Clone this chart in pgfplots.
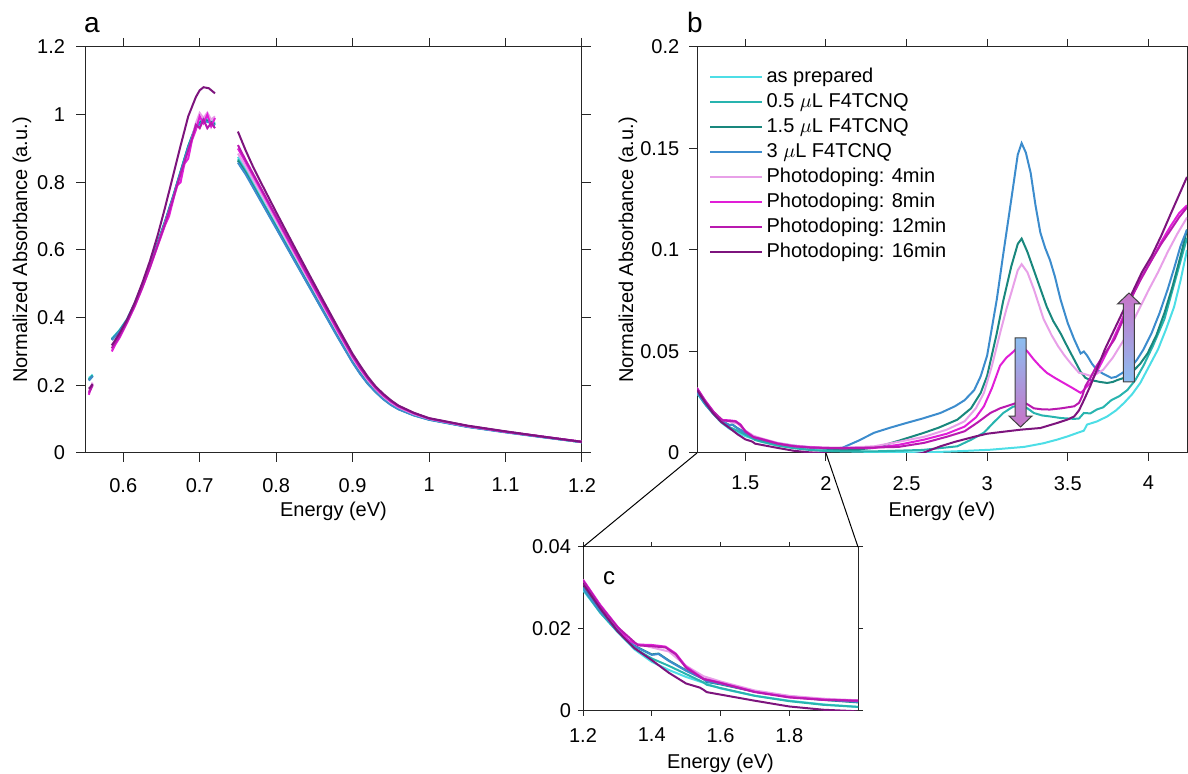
\documentclass[border=0pt]{standalone}
\usepackage{fontspec}
\setmainfont{Liberation Sans}
\usepackage{pgfplots}
\pgfplotsset{compat=1.18}
\usepackage{pgfplotstable}

\definecolor{cAP}{RGB}{77,222,230}
\definecolor{cFa}{RGB}{40,180,175}
\definecolor{cFb}{RGB}{25,135,125}
\definecolor{cFc}{RGB}{60,140,205}
\definecolor{cPa}{RGB}{232,160,232}
\definecolor{cPb}{RGB}{225,30,215}
\definecolor{cPc}{RGB}{185,25,175}
\definecolor{cPd}{RGB}{125,20,125}
\definecolor{arBlue}{RGB}{140,190,240}
\definecolor{arPink}{RGB}{248,200,248}
\definecolor{arPurp}{RGB}{200,115,200}

% ---------- panel a: full spectra (gaps = nan) ----------
\pgfplotstableread{
x y
0.555 0.222
0.5575 0.226
0.560 0.232
nan nan
0.585 0.338
0.595 0.363
0.605 0.396
0.615 0.443
0.625 0.498
0.635 0.558
0.645 0.623
0.655 0.688
0.665 0.758
0.675 0.833
0.685 0.908
0.695 0.968
0.705 0.990
0.715 0.982
0.720 0.975
nan nan
0.750 0.875
0.760 0.838
0.780 0.755
0.800 0.673
0.820 0.592
0.840 0.511
0.860 0.430
0.880 0.350
0.900 0.272
0.910 0.238
0.920 0.208
0.930 0.183
0.940 0.162
0.950 0.145
0.960 0.131
0.980 0.112
1.000 0.099
1.050 0.078
1.100 0.062
1.150 0.047
1.200 0.032
}\aAP
\pgfplotstableread{
x y
0.555 0.218
0.5575 0.223
0.560 0.229
nan nan
0.585 0.336
0.595 0.361
0.605 0.394
0.615 0.441
0.625 0.496
0.635 0.556
0.645 0.621
0.655 0.686
0.665 0.756
0.675 0.831
0.685 0.906
0.695 0.966
0.705 0.986
0.715 0.980
0.720 0.972
nan nan
0.750 0.868
0.760 0.832
0.780 0.750
0.800 0.669
0.820 0.588
0.840 0.508
0.860 0.428
0.880 0.347
0.900 0.270
0.910 0.236
0.920 0.206
0.930 0.182
0.940 0.161
0.950 0.144
0.960 0.130
0.980 0.112
1.000 0.099
1.050 0.078
1.100 0.062
1.150 0.047
1.200 0.032
}\aFa
\pgfplotstableread{
x y
0.555 0.216
0.5575 0.221
0.560 0.228
nan nan
0.585 0.335
0.595 0.360
0.605 0.393
0.615 0.440
0.625 0.495
0.635 0.555
0.645 0.620
0.655 0.685
0.665 0.755
0.675 0.830
0.685 0.905
0.695 0.965
0.705 0.985
0.715 0.978
0.720 0.970
nan nan
0.750 0.864
0.760 0.828
0.780 0.747
0.800 0.667
0.820 0.586
0.840 0.506
0.860 0.426
0.880 0.346
0.900 0.269
0.910 0.235
0.920 0.205
0.930 0.181
0.940 0.160
0.950 0.143
0.960 0.130
0.980 0.112
1.000 0.099
1.050 0.078
1.100 0.062
1.150 0.047
1.200 0.032
}\aFb
\pgfplotstableread{
x y
0.555 0.214
0.5575 0.220
0.560 0.227
nan nan
0.585 0.334
0.595 0.359
0.605 0.392
0.615 0.439
0.625 0.494
0.635 0.554
0.645 0.619
0.655 0.684
0.665 0.754
0.675 0.829
0.685 0.903
0.695 0.962
0.705 0.982
0.715 0.975
0.720 0.968
nan nan
0.750 0.858
0.760 0.824
0.780 0.744
0.800 0.664
0.820 0.584
0.840 0.504
0.860 0.424
0.880 0.344
0.900 0.267
0.910 0.233
0.920 0.204
0.930 0.180
0.940 0.159
0.950 0.142
0.960 0.129
0.980 0.111
1.000 0.098
1.050 0.077
1.100 0.061
1.150 0.046
1.200 0.032
}\aFc
\pgfplotstableread{
x y
0.555 0.182
0.5575 0.195
0.560 0.208
nan nan
0.585 0.305
0.595 0.342
0.605 0.386
0.615 0.434
0.625 0.489
0.635 0.549
0.645 0.614
0.655 0.679
0.665 0.748
0.675 0.818
0.685 0.888
0.690 0.930
0.695 0.975
0.700 1.005
0.705 0.990
0.710 1.006
0.715 0.985
0.720 0.995
nan nan
0.750 0.885
0.760 0.848
0.780 0.768
0.800 0.686
0.820 0.603
0.840 0.521
0.860 0.440
0.880 0.359
0.900 0.280
0.910 0.246
0.920 0.215
0.930 0.189
0.940 0.167
0.950 0.149
0.960 0.135
0.980 0.115
1.000 0.101
1.050 0.079
1.100 0.063
1.150 0.048
1.200 0.033
}\aPa
\pgfplotstableread{
x y
0.555 0.172
0.5575 0.192
0.560 0.202
nan nan
0.585 0.300
0.590 0.322
0.595 0.340
0.605 0.385
0.615 0.433
0.625 0.488
0.635 0.548
0.645 0.612
0.655 0.675
0.660 0.700
0.665 0.745
0.670 0.790
0.675 0.800
0.680 0.855
0.685 0.870
0.690 0.925
0.695 0.955
0.700 0.995
0.705 0.975
0.710 1.000
0.715 0.965
0.720 0.990
nan nan
0.750 0.900
0.760 0.860
0.780 0.778
0.800 0.695
0.820 0.611
0.840 0.528
0.860 0.446
0.880 0.364
0.900 0.285
0.910 0.250
0.920 0.219
0.930 0.192
0.940 0.170
0.950 0.152
0.960 0.137
0.980 0.117
1.000 0.102
1.050 0.080
1.100 0.063
1.150 0.048
1.200 0.033
}\aPb
\pgfplotstableread{
x y
0.555 0.178
0.5575 0.188
0.560 0.200
nan nan
0.585 0.310
0.595 0.345
0.605 0.388
0.615 0.436
0.625 0.490
0.635 0.550
0.645 0.615
0.655 0.680
0.665 0.750
0.675 0.825
0.685 0.895
0.690 0.930
0.695 0.970
0.700 0.960
0.705 0.985
0.710 0.960
0.715 0.975
0.720 0.960
nan nan
0.750 0.910
0.760 0.866
0.780 0.783
0.800 0.699
0.820 0.615
0.840 0.532
0.860 0.450
0.880 0.368
0.900 0.288
0.910 0.253
0.920 0.221
0.930 0.194
0.940 0.172
0.950 0.154
0.960 0.139
0.980 0.118
1.000 0.102
1.050 0.080
1.100 0.063
1.150 0.048
1.200 0.033
}\aPc
\pgfplotstableread{
x y
0.555 0.190
0.5575 0.196
0.560 0.204
nan nan
0.585 0.318
0.595 0.353
0.605 0.394
0.615 0.444
0.625 0.503
0.635 0.568
0.645 0.643
0.655 0.728
0.665 0.818
0.675 0.908
0.685 0.995
0.695 1.052
0.700 1.072
0.705 1.081
0.712 1.078
0.720 1.063
nan nan
0.750 0.950
0.760 0.895
0.770 0.845
0.780 0.800
0.800 0.712
0.820 0.626
0.840 0.541
0.860 0.457
0.880 0.374
0.900 0.293
0.910 0.258
0.920 0.225
0.930 0.197
0.940 0.175
0.950 0.156
0.960 0.140
0.980 0.119
1.000 0.103
1.050 0.081
1.100 0.064
1.150 0.048
1.200 0.033
}\aPd

% ---------- panel b / c: doped films ----------
\pgfplotstableread{
x y
1.20 0.0295
1.25 0.0240
1.30 0.0193
1.35 0.0150
1.40 0.0120
1.45 0.0100
1.50 0.0083
1.60 0.0055
1.70 0.0037
1.80 0.0025
1.90 0.0016
2.00 0.0010
2.30 0.0005
2.61 0.0003
2.80 0.0008
3.02 0.0016
3.23 0.0030
3.35 0.0048
3.435 0.0066
3.50 0.0082
3.56 0.0099
3.60 0.0110
3.62 0.0140
3.68 0.0155
3.745 0.0180
3.80 0.0210
3.85 0.0247
3.90 0.0290
3.95 0.0345
4.00 0.0420
4.06 0.0510
4.11 0.0610
4.16 0.0720
4.20 0.0850
4.24 0.1000
}\bAP
\pgfplotstableread{
x y
1.20 0.0298
1.25 0.0240
1.30 0.0194
1.35 0.0153
1.40 0.0128
1.45 0.0110
1.50 0.0090
1.55 0.0070
1.56 0.0064
1.60 0.0056
1.70 0.0037
1.80 0.0024
1.90 0.0015
2.00 0.0010
2.30 0.0008
2.60 0.0015
2.815 0.0033
2.90 0.0065
2.98 0.0100
3.04 0.0150
3.10 0.0197
3.16 0.0228
3.21 0.0234
3.25 0.0220
3.29 0.0197
3.34 0.0185
3.39 0.0180
3.46 0.0172
3.54 0.0168
3.57 0.0170
3.60 0.0197
3.64 0.0195
3.68 0.0214
3.72 0.0225
3.77 0.0260
3.82 0.0280
3.87 0.0310
3.92 0.0360
3.97 0.0430
4.03 0.0530
4.10 0.0660
4.17 0.0860
4.24 0.1060
}\bFa
\pgfplotstableread{
x y
1.20 0.0302
1.25 0.0245
1.30 0.0198
1.35 0.0159
1.40 0.0138
1.42 0.0140
1.45 0.0123
1.50 0.0099
1.55 0.0079
1.56 0.0071
1.60 0.0065
1.70 0.0047
1.80 0.0035
1.90 0.0027
2.00 0.0021
2.10 0.0018
2.20 0.0018
2.30 0.0025
2.45 0.0060
2.61 0.0100
2.70 0.0125
2.815 0.0164
2.90 0.0220
2.96 0.0296
3.00 0.0380
3.06 0.0590
3.10 0.0750
3.15 0.0920
3.19 0.1030
3.214 0.1056
3.25 0.0990
3.29 0.0900
3.33 0.0810
3.37 0.0720
3.41 0.0650
3.455 0.0590
3.50 0.0520
3.54 0.0460
3.58 0.0400
3.61 0.0370
3.64 0.0360
3.70 0.0350
3.745 0.0345
3.78 0.0350
3.81 0.0360
3.85 0.0370
3.89 0.0390
3.95 0.0440
3.995 0.0490
4.05 0.0580
4.10 0.0690
4.15 0.0820
4.20 0.0970
4.24 0.1100
}\bFb
\pgfplotstableread{
x y
1.20 0.0300
1.25 0.0243
1.30 0.0196
1.35 0.0158
1.40 0.0137
1.42 0.0139
1.45 0.0122
1.50 0.0098
1.55 0.0078
1.56 0.0072
1.60 0.0066
1.70 0.0048
1.80 0.0036
1.90 0.0028
2.00 0.0022
2.10 0.0025
2.20 0.0060
2.30 0.0100
2.40 0.0125
2.50 0.0148
2.60 0.0170
2.71 0.0197
2.80 0.0230
2.86 0.0260
2.92 0.0310
2.96 0.0378
3.00 0.0480
3.06 0.0757
3.10 0.0980
3.15 0.1250
3.19 0.1470
3.214 0.1526
3.24 0.1480
3.27 0.1380
3.30 0.1220
3.33 0.1086
3.36 0.1010
3.39 0.0950
3.42 0.0870
3.455 0.0757
3.50 0.0640
3.54 0.0560
3.58 0.0490
3.60 0.0500
3.62 0.0480
3.65 0.0440
3.68 0.0410
3.72 0.0390
3.77 0.0370
3.80 0.0375
3.85 0.0400
3.90 0.0430
3.93 0.0460
3.97 0.0510
4.02 0.0590
4.07 0.0690
4.12 0.0806
4.16 0.0910
4.20 0.1020
4.24 0.1100
}\bFc
\pgfplotstableread{
x y
1.20 0.0320
1.25 0.0258
1.30 0.0205
1.35 0.0165
1.40 0.0155
1.45 0.0145
1.50 0.0110
1.55 0.0085
1.60 0.0072
1.70 0.0050
1.80 0.0037
1.90 0.0030
2.00 0.0026
2.10 0.0025
2.30 0.0033
2.45 0.0055
2.61 0.0080
2.75 0.0115
2.86 0.0156
2.93 0.0220
2.98 0.0296
3.03 0.0430
3.08 0.0590
3.12 0.0710
3.15 0.0790
3.19 0.0900
3.214 0.0930
3.25 0.0890
3.29 0.0806
3.35 0.0660
3.40 0.0580
3.44 0.0526
3.48 0.0480
3.52 0.0440
3.57 0.0395
3.60 0.0390
3.64 0.0380
3.68 0.0390
3.72 0.0410
3.78 0.0470
3.85 0.0560
3.90 0.0640
3.95 0.0720
4.00 0.0800
4.06 0.0890
4.12 0.0990
4.18 0.1080
4.24 0.1160
}\bPa
\pgfplotstableread{
x y
1.20 0.0320
1.25 0.0259
1.30 0.0206
1.33 0.0173
1.36 0.0162
1.40 0.0161
1.44 0.0157
1.47 0.0140
1.50 0.0108
1.55 0.0079
1.60 0.0069
1.70 0.0047
1.80 0.0034
1.90 0.0028
2.00 0.0025
2.10 0.0023
2.30 0.0025
2.45 0.0040
2.61 0.0066
2.75 0.0095
2.86 0.0130
2.93 0.0175
2.98 0.0230
3.03 0.0320
3.08 0.0430
3.12 0.0470
3.15 0.0490
3.19 0.0520
3.214 0.0526
3.25 0.0500
3.29 0.0460
3.33 0.0425
3.37 0.0395
3.42 0.0370
3.475 0.0345
3.53 0.0320
3.58 0.0296
3.60 0.0310
3.61 0.0320
3.64 0.0345
3.68 0.0400
3.72 0.0460
3.77 0.0540
3.81 0.0610
3.86 0.0700
3.91 0.0790
3.96 0.0870
4.02 0.0950
4.08 0.1040
4.14 0.1120
4.19 0.1180
4.24 0.1220
}\bPb
\pgfplotstableread{
x y
1.20 0.0318
1.25 0.0256
1.30 0.0205
1.36 0.0160
1.40 0.0158
1.44 0.0155
1.47 0.0138
1.50 0.0105
1.55 0.0078
1.60 0.0068
1.70 0.0046
1.80 0.0033
1.90 0.0027
2.00 0.0025
2.20 0.0025
2.45 0.0030
2.61 0.0050
2.75 0.0080
2.86 0.0107
2.94 0.0150
3.02 0.0197
3.08 0.0220
3.15 0.0238
3.214 0.0255
3.25 0.0240
3.29 0.0220
3.34 0.0215
3.39 0.0214
3.46 0.0220
3.54 0.0230
3.57 0.0247
3.59 0.0280
3.61 0.0330
3.64 0.0370
3.68 0.0430
3.73 0.0490
3.79 0.0560
3.84 0.0650
3.89 0.0757
3.95 0.0850
4.02 0.0950
4.08 0.1030
4.14 0.1100
4.19 0.1160
4.24 0.1210
}\bPc
\pgfplotstableread{
x y
1.20 0.0310
1.25 0.0250
1.30 0.0195
1.35 0.0153
1.40 0.0124
1.45 0.0093
1.50 0.0067
1.54 0.0057
1.55 0.0052
1.56 0.0046
1.60 0.0040
1.70 0.0025
1.80 0.0011
1.90 0.0003
1.98 0.0000
2.10 -0.0010
2.30 -0.0015
2.50 -0.0010
2.60 0.0000
2.71 0.0033
2.80 0.0055
2.92 0.0080
3.00 0.0095
3.125 0.0107
3.21 0.0115
3.33 0.0123
3.435 0.0148
3.50 0.0165
3.54 0.0180
3.57 0.0210
3.60 0.0260
3.64 0.0330
3.68 0.0410
3.73 0.0510
3.79 0.0610
3.85 0.0710
3.91 0.0806
3.96 0.0890
4.02 0.0970
4.08 0.1070
4.14 0.1180
4.19 0.1270
4.24 0.1360
}\bPd

\pgfplotsset{
  every axis/.append style={
    scale only axis,
    font=\fontsize{10}{12}\selectfont,
    tick label style={font=\fontsize{10}{12}\selectfont},
    label style={font=\fontsize{10}{12}\selectfont},
    axis line style={black!85, line width=0.5pt},
    tick style={black!85, line width=0.5pt},
    tick align=outside,
    scaled x ticks=false, scaled y ticks=false,
    /pgf/number format/assume math mode=true,
    unbounded coords=jump,
  },
  spec/.style={line width=1pt},
}

\begin{document}
\begin{tikzpicture}

% ---- panel a ----
\begin{axis}[
  name=pa,
  at={(42.5pt,160.5pt)}, anchor=south west,
  width=248.5pt, height=203pt,
  xmin=0.55, xmax=1.2, ymin=0, ymax=1.2,
  xtick={0.6,0.7,0.8,0.9,1,1.1,1.2},
  xticklabels={0.6,0.7,0.8,0.9,1,1.1,1.2},
  ytick={0,0.2,0.4,0.6,0.8,1,1.2},
  yticklabels={0,0.2,0.4,0.6,0.8,1,1.2},
  xticklabel style={yshift=-4.5pt},
  yticklabel style={xshift=-2pt},
  major tick length=4.5pt,
  xlabel={Energy (eV)},
  ylabel={Normalized Absorbance (a.u.)},
  every axis x label/.style={at={([yshift=-29pt]rel axis cs:0.5,0)}, anchor=center},
  every axis y label/.style={at={([xshift=-31.5pt]rel axis cs:0,0.5)}, anchor=center, rotate=90},
]
\addplot[spec, cAP] table {\aAP};
\addplot[spec, cFa] table {\aFa};
\addplot[spec, cFb] table {\aFb};
\addplot[spec, cFc] table {\aFc};
\addplot[spec, cPa] table {\aPa};
\addplot[spec, cPb] table {\aPb};
\addplot[spec, cPc] table {\aPc};
\addplot[spec, cPd] table {\aPd};
\end{axis}

% ---- panel b ----
\begin{axis}[
  name=pb,
  at={(348.5pt,160.5pt)}, anchor=south west,
  width=245pt, height=203pt,
  xmin=1.2, xmax=4.24, ymin=0, ymax=0.2,
  xtick={1.5,2,2.5,3,3.5,4},
  xticklabels={1.5,2,2.5,3,3.5,4},
  ytick={0,0.05,0.1,0.15,0.2},
  yticklabels={0,0.05,0.1,0.15,0.2},
  xticklabel style={yshift=-4.2pt},
  yticklabel style={xshift=-1.5pt},
  ytick pos=left,
  major tick length=3.85pt,
  xlabel={Energy (eV)},
  ylabel={Normalized Absorbance (a.u.)},
  every axis x label/.style={at={([yshift=-29pt]rel axis cs:0.5,0)}, anchor=center},
  every axis y label/.style={at={([xshift=-34.5pt]rel axis cs:0,0.5)}, anchor=center, rotate=90},
  legend style={at={(0.012,0.968)}, anchor=north west, draw=none, fill=none,
    font=\fontsize{10}{12}\selectfont,
    nodes={text height=7.2pt, text depth=2pt, inner sep=1.65pt}},
  legend cell align=left,
  legend image code/.code={\draw[#1] (0pt,0pt) -- (26pt,0pt);},
]
\addplot[spec, cAP] table {\bAP};
\addplot[spec, cFa] table {\bFa};
\addplot[spec, cFb] table {\bFb};
\addplot[spec, cFc] table {\bFc};
\addplot[spec, cPa] table {\bPa};
\addplot[spec, cPb] table {\bPb};
\addplot[spec, cPc] table {\bPc};
\addplot[spec, cPd] table {\bPd};
\legend{as prepared, 0.5 $\mu$L F4TCNQ, 1.5 $\mu$L F4TCNQ, 3 $\mu$L F4TCNQ,
  Photodoping: 4min, Photodoping: 8min, Photodoping: 12min, Photodoping: 16min}
% arrows
\shade[top color=arBlue, middle color=arPink, bottom color=arPurp, draw=black!75, line width=0.5pt]
  ([xshift=-2.75pt]axis cs:3.207,0.0567) -- ([xshift=2.75pt]axis cs:3.207,0.0567)
  -- ([xshift=2.75pt]axis cs:3.207,0.0182) -- ([xshift=5.75pt]axis cs:3.207,0.0182)
  -- (axis cs:3.207,0.0128) -- ([xshift=-5.75pt]axis cs:3.207,0.0182)
  -- ([xshift=-2.75pt]axis cs:3.207,0.0182) -- cycle;
\shade[top color=arPurp, middle color=arPink, bottom color=arBlue, draw=black!75, line width=0.5pt]
  ([xshift=-2.75pt]axis cs:3.88,0.0350) -- ([xshift=2.75pt]axis cs:3.88,0.0350)
  -- ([xshift=2.75pt]axis cs:3.88,0.0734) -- ([xshift=5.75pt]axis cs:3.88,0.0734)
  -- (axis cs:3.88,0.0788) -- ([xshift=-5.75pt]axis cs:3.88,0.0734)
  -- ([xshift=-2.75pt]axis cs:3.88,0.0734) -- cycle;
\coordinate (zl) at (axis cs:1.2,0);
\coordinate (zr) at (axis cs:2,0);
\end{axis}

% ---- panel c ----
\begin{axis}[
  name=pc,
  at={(291.5pt,31.5pt)}, anchor=south west,
  width=137.5pt, height=82pt,
  xmin=1.2, xmax=2.0, ymin=0, ymax=0.04,
  xtick={1.2,1.4,1.6,1.8},
  xticklabels={1.2,1.4,1.6,1.8},
  ytick={0,0.02,0.04},
  yticklabels={0,0.02,0.04},
  xticklabel style={yshift=-2.5pt},
  major tick length=2.5pt,
  xlabel={Energy (eV)},
  every axis x label/.style={at={([yshift=-26pt]rel axis cs:0.5,0)}, anchor=center},
]
\addplot[spec, cAP] table {\bAP};
\addplot[spec, cFa] table {\bFa};
\addplot[spec, cFb] table {\bFb};
\addplot[spec, cFc] table {\bFc};
\addplot[spec, cPa] table {\bPa};
\addplot[spec, cPb] table {\bPb};
\addplot[spec, cPc] table {\bPc};
\addplot[spec, cPd] table {\bPd};
\node[font=\fontsize{12}{14}\selectfont] at (rel axis cs:0.095,0.81) {c};
\end{axis}

\draw[black, line width=0.5pt] (zl) -- (pc.north west);
\draw[black, line width=0.5pt] (zr) -- (pc.north east);

\node[font=\fontsize{14}{16}\selectfont] at (46pt,374.5pt) {a};
\node[font=\fontsize{14}{16}\selectfont] at (347.5pt,375.5pt) {b};

\pgfresetboundingbox
\path[use as bounding box] (0,0) rectangle (594pt,387pt);
\end{tikzpicture}
\end{document}
